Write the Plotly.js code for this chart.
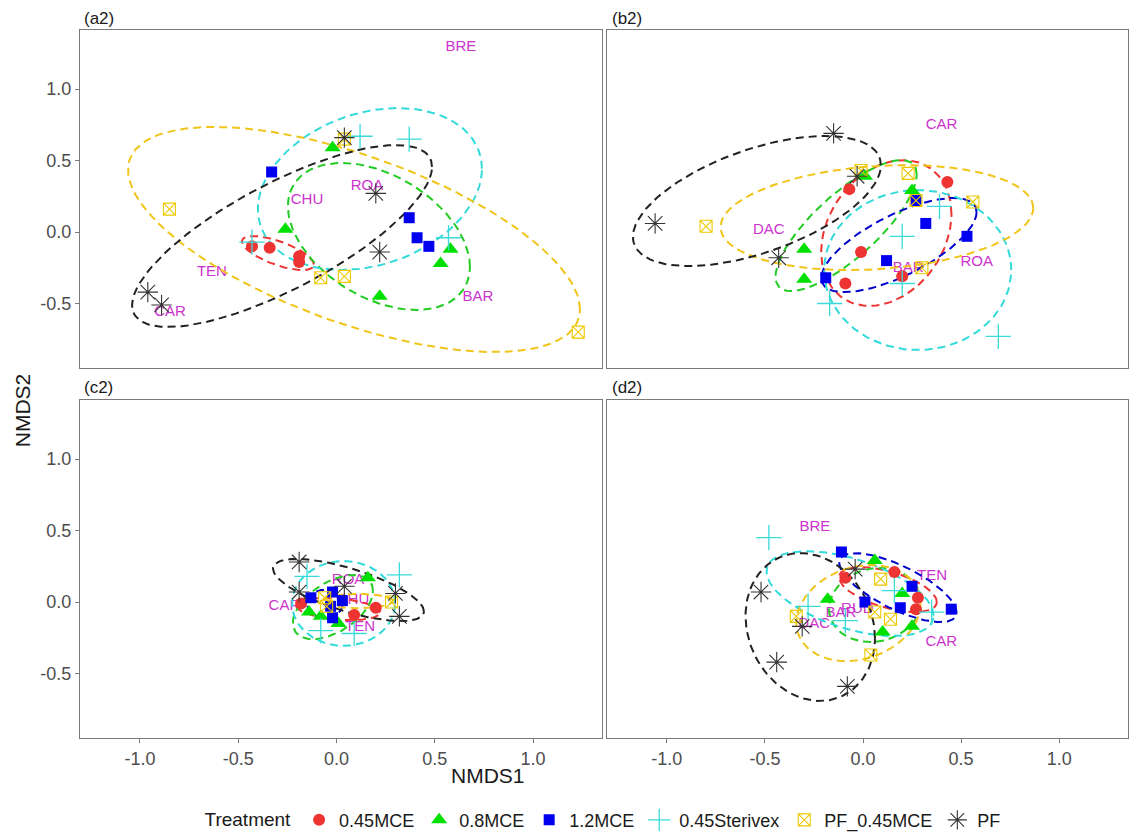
<!DOCTYPE html>
<html><head><meta charset="utf-8">
<script src="https://cdn.plot.ly/plotly-3.0.1.min.js"></script>
<style>html,body{margin:0;padding:0;background:#fff;}#chart{width:1134px;height:835px;}</style>
</head><body><div id="chart"></div>
<script>
// ---------- data ----------
const treatments = ['0.45MCE','0.8MCE','1.2MCE','0.45Sterivex','PF_0.45MCE','PF'];
const panelNames = ['(a2)','(b2)','(c2)','(d2)'];
const xTickVals = [-1, -0.5, 0, 0.5, 1];
const xTickText = ['-1.0','-0.5','0.0','0.5','1.0'];
const yTickVals = [-0.5, 0, 0.5, 1];
const yTickText = ['-0.5','0.0','0.5','1.0'];

// panel a2 points, one row per treatment
const a2X = [[-0.43,-0.34,-0.19,-0.19],[-0.02,-0.26,0.58,0.53,0.22],[-0.33,0.37,0.41,0.47],[-0.43,0.12,0.37,0.57],[-0.85,0.04,-0.08,0.04,1.23],[-0.96,-0.89,0.04,0.20,0.22]];
const a2Y = [[-0.10,-0.11,-0.17,-0.21],[0.59,0.02,-0.12,-0.22,-0.45],[0.42,0.10,-0.04,-0.10],[-0.07,0.67,0.65,-0.04],[0.16,0.65,-0.32,-0.31,-0.70],[-0.42,-0.51,0.66,0.27,-0.14]];
// panel b2
const b2X = [[-0.07,-0.01,-0.09,0.43,0.20],[-0.30,-0.30,0.01,0.25],[-0.19,0.12,0.32,0.53,0.27],[-0.17,0.39,0.20,0.20,0.69],[-0.80,-0.01,0.23,0.27,0.56,0.30],[-0.15,-1.06,-0.43,-0.03]];
const b2Y = [[0.30,-0.14,-0.36,0.35,-0.31],[-0.12,-0.33,0.39,0.29],[-0.32,-0.20,0.06,-0.03,0.22],[-0.50,0.18,-0.03,-0.36,-0.73],[0.04,0.43,0.41,0.22,0.21,-0.25],[0.69,0.06,-0.18,0.39]];
// panel c2
const c2X = [[-0.18,0.09,0.20],[0.16,-0.14,-0.08,0.01],[-0.13,-0.02,0.03,-0.02,-0.03],[-0.15,0.32,-0.08,0.09],[-0.06,-0.05,0.28],[-0.19,-0.19,0.04,0.30,0.32]];
const c2Y = [[-0.01,-0.09,-0.04],[0.17,-0.07,-0.10,-0.15],[0.03,0.07,0.01,-0.11,-0.03],[0.18,0.19,-0.20,-0.22],[0.03,-0.03,0.00],[0.28,0.07,0.11,0.06,-0.10]];
// panel d2
const d2X = [[-0.09,0.16,0.28,0.27],[0.06,0.20,-0.18,0.10,0.25],[-0.11,0.25,0.01,0.19,0.45],[-0.48,0.16,0.35,-0.28,-0.09],[0.09,-0.34,0.06,0.14,0.04],[-0.04,-0.52,-0.31,-0.44,-0.08]];
const d2Y = [[0.17,0.21,0.03,-0.05],[0.29,0.06,0.02,-0.21,-0.17],[0.35,0.11,0.00,-0.04,-0.05],[0.45,0.08,-0.07,-0.03,-0.13],[0.16,-0.10,-0.07,-0.12,-0.37],[0.23,0.07,-0.17,-0.42,-0.59]];

// confidence ellipses per treatment: [centre x, centre y, half width, half height, tilt]
const a2Ell = [[-0.298,-0.147,0.183,0.119,-0.68],[0.216,-0.031,0.463,0.514,-0.41],null,[0.170,0.301,0.570,0.566,0.25],[0.089,-0.052,1.150,0.787,-0.62],[-0.277,-0.028,0.763,0.636,0.76]];
const b2Ell = [[0.119,-0.007,0.332,0.510,0.26],[-0.086,0.045,0.360,0.458,0.78],[0.183,-0.091,0.396,0.329,0.70],[0.279,-0.266,0.477,0.559,0.0],[0.071,0.101,0.797,0.367,0.18],[-0.541,0.217,0.632,0.455,0.55]];
const c2Ell = [[0.008,-0.049,0.214,0.077,-0.3],[-0.018,-0.035,0.204,0.224,0.5],[-0.059,-0.014,0.09,0.10,0],[0.036,-0.010,0.262,0.297,0],[0.109,0.007,0.18,0.05,0],[0.061,0.084,0.384,0.217,-0.69]];
const d2Ell = [[0.127,0.087,0.249,0.157,-0.55],[0.061,-0.021,0.234,0.259,0.1],[0.178,0.101,0.299,0.241,-0.72],[-0.066,0.059,0.426,0.297,-0.52],[-0.023,-0.077,0.317,0.336,0.2],[-0.269,-0.175,0.330,0.517,-0.15]];

// site labels
const a2Sites = ['BRE','CHU','ROA','TEN','CAR','BAR'];
const a2SiteX = [0.633,-0.150,0.155,-0.634,-0.847,0.720];
const a2SiteY = [1.294,0.224,0.322,-0.280,-0.559,-0.455];
const b2Sites = ['CAR','DAC','BAR','ROA'];
const b2SiteX = [0.40,-0.48,0.23,0.58];
const b2SiteY = [0.75,0.01,-0.25,-0.21];
const c2Sites = ['CAR','ROA','CHU','TEN'];
const c2SiteX = [-0.265,0.059,0.084,0.120];
const c2SiteY = [-0.030,0.150,0.014,-0.173];
const d2Sites = ['BRE','TEN','BAR','RUD','DAC','CAR'];
const d2SiteX = [-0.245,0.352,-0.113,-0.029,-0.249,0.399];
const d2SiteY = [0.520,0.177,-0.079,-0.051,-0.154,-0.284];

// ---------- styling ----------
const FONT = 'Liberation Sans, Arial, Helvetica, sans-serif';
const ptColors = ['#EE3333','#00E000','#0000EE','#3ADADA','#EEC900','#333333'];
const ellColors = ['#EE3333','#22CC22','#0000CC','#33DADA','#F0C419','#222222'];
const symbols = ['circle','triangle-up','square','cross-thin-open','square-x-open','asterisk-open'];
const sizes = [12,14,11,18,12,17];
const lineW = [0,0,0,1.3,1.1,1.1];
const siteColor = '#CC33CC';

const panels = [
  {X:a2X, Y:a2Y, E:a2Ell, S:a2Sites, SX:a2SiteX, SY:a2SiteY, xa:'x', ya:'y'},
  {X:b2X, Y:b2Y, E:b2Ell, S:b2Sites, SX:b2SiteX, SY:b2SiteY, xa:'x2', ya:'y2'},
  {X:c2X, Y:c2Y, E:c2Ell, S:c2Sites, SX:c2SiteX, SY:c2SiteY, xa:'x3', ya:'y3'},
  {X:d2X, Y:d2Y, E:d2Ell, S:d2Sites, SX:d2SiteX, SY:d2SiteY, xa:'x4', ya:'y4'}
];

function ellipsePath(e){
  const xs=[], ys=[], n=120;
  const c = Math.sqrt(1 - e[4]*e[4]);
  for(let i=0;i<=n;i++){
    const t = 2*Math.PI*i/n;
    xs.push(e[0] + e[2]*Math.cos(t));
    ys.push(e[1] + e[3]*(e[4]*Math.cos(t) + c*Math.sin(t)));
  }
  return {xs, ys};
}

const traces = [];
panels.forEach((p, pi) => {
  traces.push({type:'scatter', mode:'text', x:p.SX, y:p.SY, text:p.S, xaxis:p.xa, yaxis:p.ya,
    textfont:{family:FONT, size:15, color:siteColor}, showlegend:false, hoverinfo:'skip'});
  p.E.forEach((e, ti) => {
    if(!e) return;
    const el = ellipsePath(e);
    traces.push({type:'scatter', mode:'lines', x:el.xs, y:el.ys, xaxis:p.xa, yaxis:p.ya,
      line:{color:ellColors[ti], width:2, dash:'8px,5px'}, showlegend:false, hoverinfo:'skip'});
  });
  treatments.forEach((tn, ti) => {
    traces.push({type:'scatter', mode:'markers', name:tn, legendgroup:tn, showlegend: pi===0,
      x:p.X[ti], y:p.Y[ti], xaxis:p.xa, yaxis:p.ya,
      marker:{symbol:symbols[ti], size:sizes[ti], color:ptColors[ti],
        line:{color:ptColors[ti], width:lineW[ti]}}});
  });
});

const xRange = [-1.305, 1.351];
const yRange = [-0.951, 1.413];
function xAxis(domain, anchor, labels){
  return {domain, anchor, range:xRange, showgrid:false, zeroline:false, showline:true, mirror:true,
    linecolor:'#7a7a7a', linewidth:1, ticks: labels?'outside':'', ticklen:4, tickcolor:'#7a7a7a',
    tickvals:xTickVals, ticktext:xTickText, showticklabels:labels,
    tickfont:{family:FONT, size:18, color:'#4d4d4d'}, fixedrange:true, automargin:false};
}
function yAxis(domain, anchor, labels){
  return {domain, anchor, range:yRange, showgrid:false, zeroline:false, showline:true, mirror:true,
    linecolor:'#7a7a7a', linewidth:1, ticks: labels?'outside':'', ticklen:4, tickcolor:'#7a7a7a',
    tickvals:yTickVals, ticktext:yTickText, showticklabels:labels,
    tickfont:{family:FONT, size:18, color:'#4d4d4d'}, fixedrange:true, automargin:false};
}
const xL=[0,0.4981], xR=[0.5029,1], yT=[0.5226,1], yB=[0,0.4774];

const annotations = [
  {text:panelNames[0], x:0.002, y:1.0169},
  {text:panelNames[1], x:0.5057, y:1.0169},
  {text:panelNames[2], x:0.002, y:0.4944},
  {text:panelNames[3], x:0.5057, y:0.4944}
].map(a => Object.assign(a, {xref:'paper', yref:'paper', xanchor:'left', yanchor:'middle',
  showarrow:false, font:{family:FONT, size:17, color:'#1a1a1a'}}));
annotations.push({text:'NMDS1', xref:'paper', yref:'paper', x:0.389, y:-0.0523, xanchor:'center', yanchor:'middle',
  showarrow:false, font:{family:FONT, size:21, color:'#1a1a1a'}});
annotations.push({text:'NMDS2', xref:'paper', yref:'paper', x:-0.0553, y:0.463, xanchor:'center', yanchor:'middle',
  textangle:-90, showarrow:false, font:{family:FONT, size:21, color:'#1a1a1a'}});

const layout = {
  width:1134, height:835, margin:{l:80, r:6, t:30, b:97, autoexpand:false},
  paper_bgcolor:'#fff', plot_bgcolor:'#fff', font:{family:FONT},
  xaxis:xAxis(xL,'y',false), yaxis:yAxis(yT,'x',true),
  xaxis2:xAxis(xR,'y2',false), yaxis2:yAxis(yT,'x2',false),
  xaxis3:xAxis(xL,'y3',true), yaxis3:yAxis(yB,'x3',true),
  xaxis4:xAxis(xR,'y4',true), yaxis4:yAxis(yB,'x4',false),
  annotations,
  showlegend:true,
  legend:{orientation:'h', x:0.5, xanchor:'center', y:-0.116, yanchor:'middle',
    font:{family:FONT, size:18, color:'#1a1a1a'}, itemwidth:30,
    title:{text:'Treatment', side:'left', font:{family:FONT, size:19, color:'#1a1a1a'}}}
};

Plotly.newPlot('chart', traces, layout, {displayModeBar:false, staticPlot:true});
</script></body></html>
